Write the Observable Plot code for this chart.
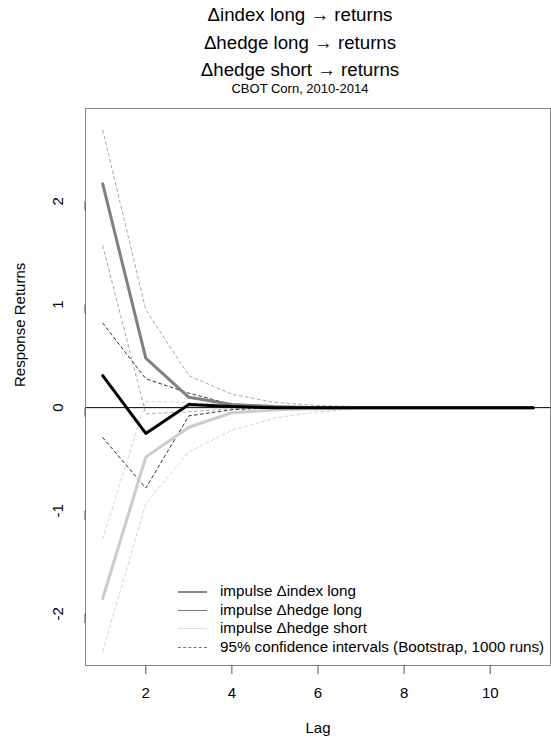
<!DOCTYPE html>
<html>
<head>
<meta charset="utf-8">
<script src="https://cdn.jsdelivr.net/npm/d3@7"></script>
<script src="https://cdn.jsdelivr.net/npm/@observablehq/plot@0.6"></script>
<style>
  html, body { margin: 0; padding: 0; background: #fff; overflow: hidden; }
  body { font-family: "Liberation Sans", Arial, sans-serif; color: #000; }
  #wrap { position: relative; width: 551px; height: 743px; }
  #head { position: relative; height: 100px; }
  .t { position: absolute; left: 300px; transform: translateX(-50%); white-space: nowrap; }
  .t1 { font-size: 18.7px; line-height: 20px; }
  .sub { font-size: 13px; line-height: 14px; }
  #legend { position: absolute; left: 178px; top: 582px; font-size: 15.2px; }
  .row { position: relative; height: 18.5px; line-height: 18.5px; }
  .sw { position: absolute; left: 0; width: 29px; }
  .lab { position: absolute; left: 42px; white-space: nowrap; }
</style>
</head>
<body>
<div id="wrap">
  <div id="head">
    <div class="t t1" style="top:5px">Δindex long → returns</div>
    <div class="t t1" style="top:32.7px">Δhedge long → returns</div>
    <div class="t t1" style="top:60px">Δhedge short → returns</div>
    <div class="t sub" style="top:82px">CBOT Corn, 2010-2014</div>
  </div>
  <div id="chart"></div>
  <div id="legend"></div>
</div>
<script>
// Lags
const lags = [1, 2, 3, 4, 5, 6, 7, 8, 9, 10, 11];

// Impulse responses
const indexLong      = [2.17, 0.48, 0.10, 0.03, 0.01, 0, 0, 0, 0, 0, 0];
const indexLongUpper = [2.69, 0.95, 0.31, 0.13, 0.05, 0.02, 0.01, 0, 0, 0, 0];
const indexLongLower = [1.57, -0.06, -0.04, -0.01, 0, 0, 0, 0, 0, 0, 0];

const hedgeLong      = [0.31, -0.25, 0.03, 0.01, 0, 0, 0, 0, 0, 0, 0];
const hedgeLongUpper = [0.82, 0.28, 0.14, 0.03, 0.01, 0, 0, 0, 0, 0, 0];
const hedgeLongLower = [-0.29, -0.78, -0.08, -0.02, 0, 0, 0, 0, 0, 0, 0];

const hedgeShort      = [-1.85, -0.48, -0.19, -0.05, -0.02, -0.01, 0, 0, 0, 0, 0];
const hedgeShortUpper = [-1.27, 0.06, 0.05, 0.03, 0.01, 0, 0, 0, 0, 0, 0];
const hedgeShortLower = [-2.36, -0.93, -0.43, -0.22, -0.10, -0.04, -0.01, 0, 0, 0, 0];

// Axis ticks
const xTicks = [2, 4, 6, 8, 10];
const yTicks = [-2, -1, 0, 1, 2];

// Legend entries
const legendLabels = [
  "impulse Δindex long",
  "impulse Δhedge long",
  "impulse Δhedge short",
  "95% confidence intervals (Bootstrap, 1000 runs)"
];
const legendStyles = [
  "border-top:2.5px solid #888;",
  "border-top:1px solid #777;",
  "border-top:1px solid #ddd;",
  "border-top:1px dashed #777;"
];

const tbl = arr => lags.map((l, i) => ({lag: l, v: arr[i]}));

const dashed = (arr, color) => Plot.line(tbl(arr), {x: "lag", y: "v", stroke: color, strokeWidth: 1, strokeDasharray: "3,3"});
const solid = (arr, color) => Plot.line(tbl(arr), {x: "lag", y: "v", stroke: color, strokeWidth: 3});

const chart = Plot.plot({
  width: 551,
  height: 643,
  marginTop: 8,
  marginBottom: 78,
  marginLeft: 85,
  marginRight: 1,
  style: {fontFamily: "Liberation Sans, Arial, sans-serif", fontSize: "15px", background: "white", color: "#000", overflow: "visible"},
  x: {domain: [0.6, 11.4]},
  y: {domain: [-2.5, 2.9]},
  marks: [
    Plot.ruleY([0], {stroke: "#000", strokeWidth: 1}),
    dashed(hedgeShortUpper, "#d4d4d4"),
    dashed(hedgeShortLower, "#d4d4d4"),
    dashed(indexLongUpper, "#aaaaaa"),
    dashed(indexLongLower, "#aaaaaa"),
    dashed(hedgeLongUpper, "#333333"),
    dashed(hedgeLongLower, "#333333"),
    solid(hedgeShort, "#cccccc"),
    solid(indexLong, "#808080"),
    solid(hedgeLong, "#000000"),
    Plot.frame({stroke: "#888"}),
    Plot.axisX({ticks: xTicks, tickSize: 9, tickPadding: 13, stroke: "#555", fill: "#000", fontSize: 15, label: null}),
    Plot.axisY({ticks: yTicks, tickSize: 9, tickPadding: 18, stroke: "#555", fill: "#000", fontSize: 15, label: null,
      rotate: -90, textAnchor: "middle", lineAnchor: "middle", tickFormat: d => String(d)}),
    Plot.text(["Response Returns"], {frameAnchor: "left", dx: -65, rotate: -90, fontSize: 15, fill: "#000"}),
    Plot.text(["Lag"], {frameAnchor: "bottom", dy: 67, fontSize: 15, fill: "#000"})
  ]
});
document.getElementById("chart").appendChild(chart);

const legend = document.getElementById("legend");
legendLabels.forEach((lab, i) => {
  const row = document.createElement("div");
  row.className = "row";
  const sw = document.createElement("div");
  sw.className = "sw";
  sw.style.cssText = legendStyles[i] + "top:9px;";
  const tx = document.createElement("div");
  tx.className = "lab";
  tx.textContent = lab;
  row.appendChild(sw);
  row.appendChild(tx);
  legend.appendChild(row);
});
</script>
</body>
</html>
